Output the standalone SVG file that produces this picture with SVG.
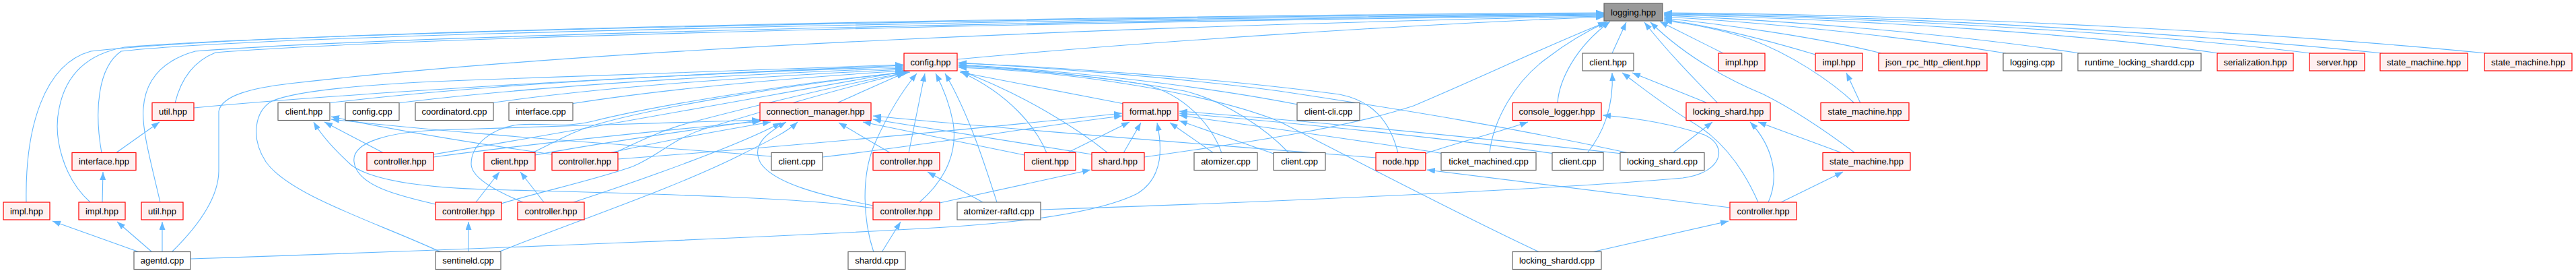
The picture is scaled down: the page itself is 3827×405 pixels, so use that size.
<svg xmlns="http://www.w3.org/2000/svg" width="3827" height="405" viewBox="0 0 3827 405">
<defs>
<marker id="ah" viewBox="0 0 12 9" refX="12" refY="4.5" markerWidth="12" markerHeight="9" markerUnits="userSpaceOnUse" orient="auto"><path d="M0,0 L12,4.5 L0,9 z" fill="#63b8ff"/></marker>
<style>
.e{fill:none;stroke:#63b8ff;stroke-width:1.1;marker-end:url(#ah)}
.r{fill:#fff0f0;stroke:#ff0000;stroke-width:1.2}
.w{fill:#ffffff;stroke:#666666;stroke-width:1.2}
.g{fill:#999999;stroke:#666666;stroke-width:1.2}
text{font-family:"Liberation Sans",Arial,Helvetica,sans-serif;font-size:13px;fill:#000;text-anchor:middle}
</style>
</defs>
<rect width="3827" height="405" fill="#ffffff"/>
<g id="edges">
<path class="e" d="M39,300 C37,190 65,95 135,76 C400,45 1600,24 2383,19"/>
<path class="e" d="M134,300 C95,265 78,205 88,160 C98,110 130,80 185,70 C500,45 1600,26 2383,20"/>
<path class="e" d="M151,227 C140,165 145,100 180,76 C400,50 1600,28 2383,21"/>
<path class="e" d="M238,300 C224,240 210,190 213,160 C216,120 240,90 290,76 C600,52 1600,30 2383,22"/>
<path class="e" d="M260,153 C268,120 285,92 320,78 C600,55 1600,32 2383,23"/>
<path class="e" d="M255,374 C300,330 325,290 325,253 L325,165 C330,140 380,130 430,124 C900,70 1700,38 2383,24"/>
<path class="e" d="M1422,88 C1700,62 2100,36 2383,25"/>
<path class="e" d="M1700,233 C1850,212 2000,190 2100,157 C2200,115 2300,67 2386,33"/>
<path class="e" d="M2213,227 C2218,180 2250,120 2300,85 C2330,62 2360,45 2388,32"/>
<path class="e" d="M2314,153 C2316,120 2340,70 2392,32"/>
<path class="e" d="M2395,79 L2416,33"/>
<path class="e" d="M2552,153 C2520,120 2480,80 2443,33"/>
<path class="e" d="M2756,227 C2700,185 2660,160 2620,140 C2560,115 2500,80 2452,33"/>
<path class="e" d="M2560,79 L2466,32"/>
<path class="e" d="M2755,153 C2720,120 2660,80 2600,58 C2550,42 2505,34 2472,31"/>
<path class="e" d="M2697,81 C2620,58 2540,38 2472,29"/>
<path class="e" d="M2795,79 C2700,55 2560,36 2472,27"/>
<path class="e" d="M2980,79 C2800,50 2600,32 2472,25"/>
<path class="e" d="M3090,79 C2900,50 2650,30 2472,23"/>
<path class="e" d="M3296,79 C3100,50 2750,28 2472,22"/>
<path class="e" d="M3433,79 C3200,50 2800,26 2472,21"/>
<path class="e" d="M3540,79 C3250,50 2850,24 2472,20"/>
<path class="e" d="M3694,79 C3400,50 2900,22 2472,19"/>
<path class="e" d="M288,160 C500,140 900,115 1342,97"/>
<path class="e" d="M487,153 C700,127 1000,110 1342,99"/>
<path class="e" d="M590,153 C800,127 1100,110 1342,101"/>
<path class="e" d="M728,153 C900,128 1150,112 1342,103"/>
<path class="e" d="M848,154 C1000,130 1200,114 1342,105"/>
<path class="e" d="M655,374 C560,330 430,290 395,240 C372,205 378,165 404,150 C450,130 600,122 720,118 C950,110 1200,100 1342,96"/>
<path class="e" d="M790,227 C830,208 850,195 885,185 C960,163 1150,128 1345,107"/>
<path class="e" d="M912,227 C950,210 985,192 1025,182 C1110,160 1250,125 1350,107"/>
<path class="e" d="M644,229 C850,195 1150,140 1343,106"/>
<path class="e" d="M745,302 C800,285 880,268 940,247 C980,230 1000,205 1050,190 C1150,160 1270,125 1347,108"/>
<path class="e" d="M777,300 C740,285 700,265 700,243 C700,215 730,190 770,185 C810,182 840,190 880,180 C980,155 1200,120 1352,107"/>
<path class="e" d="M1243,153 L1344,108"/>
<path class="e" d="M1350,227 L1374,109"/>
<path class="e" d="M1366,300 C1410,262 1422,220 1416,182 C1410,150 1400,128 1390,109"/>
<path class="e" d="M1481,300 C1465,250 1440,170 1404,109"/>
<path class="e" d="M1298,374 C1283,330 1278,262 1300,212 C1318,172 1340,135 1362,109"/>
<path class="e" d="M1670,154 L1426,107"/>
<path class="e" d="M1555,227 C1540,190 1500,140 1428,107"/>
<path class="e" d="M1646,227 C1600,190 1520,140 1427,105"/>
<path class="e" d="M1815,227 C1800,185 1760,140 1700,125 C1600,110 1500,102 1424,98"/>
<path class="e" d="M1915,227 C1880,190 1820,150 1760,135 C1650,115 1520,101 1424,97"/>
<path class="e" d="M1928,155 C1800,130 1600,105 1424,96"/>
<path class="e" d="M2077,227 C2065,180 2040,150 1990,140 C1800,115 1550,98 1424,94"/>
<path class="e" d="M2420,227 C2250,190 2100,165 1900,135 C1750,115 1550,100 1424,93"/>
<path class="e" d="M2287,374 C2150,310 2000,230 1900,180 C1800,140 1600,106 1424,100"/>
<path class="e" d="M1222,233 C1400,212 1550,186 1667,172"/>
<path class="e" d="M918,236 C1200,215 1500,186 1667,168"/>
<path class="e" d="M1669,227 L1695,182"/>
<path class="e" d="M1585,227 L1678,181"/>
<path class="e" d="M1803,227 L1738,182"/>
<path class="e" d="M1895,229 L1752,179"/>
<path class="e" d="M283,384 C700,370 1200,350 1420,336 C1550,327 1640,312 1690,287 C1730,262 1726,216 1719,182"/>
<path class="e" d="M2310,228 C2150,205 1950,185 1752,168"/>
<path class="e" d="M2410,228 C2200,205 1950,180 1752,165"/>
<path class="e" d="M2145,228 C2000,205 1850,185 1752,171"/>
<path class="e" d="M1323,227 L1246,182"/>
<path class="e" d="M1522,230 L1282,181"/>
<path class="e" d="M1622,229 L1297,177"/>
<path class="e" d="M2044,234 C1800,215 1500,192 1297,172"/>
<path class="e" d="M795,230 C900,210 1050,190 1131,178"/>
<path class="e" d="M905,227 C980,210 1080,192 1145,181"/>
<path class="e" d="M852,300 C950,268 1100,215 1160,182"/>
<path class="e" d="M644,233 C800,212 1000,192 1130,180"/>
<path class="e" d="M647,303 C590,290 530,275 526,240 C522,210 580,196 650,193 C800,188 1000,182 1129,178"/>
<path class="e" d="M740,374 C850,330 1000,280 1100,230 C1150,205 1170,195 1185,181"/>
<path class="e" d="M1297,305 C1220,290 1150,272 1130,242 C1115,215 1140,197 1168,181"/>
<path class="e" d="M570,227 L482,181"/>
<path class="e" d="M1297,309 C1200,292 900,286 720,281 C600,277 545,262 522,245 C500,225 480,205 466,181"/>
<path class="e" d="M1146,232 C900,212 700,200 492,177"/>
<path class="e" d="M820,229 C700,212 600,196 492,173"/>
<path class="e" d="M172,227 L237,181"/>
<path class="e" d="M152,300 L153,255"/>
<path class="e" d="M207,374 L78,328"/>
<path class="e" d="M226,374 L174,329"/>
<path class="e" d="M241,374 L241,329"/>
<path class="e" d="M696,374 L696,329"/>
<path class="e" d="M707,300 L742,255"/>
<path class="e" d="M808,300 L773,255"/>
<path class="e" d="M1310,374 L1338,329"/>
<path class="e" d="M1460,300 L1378,255"/>
<path class="e" d="M1396,301 L1620,252"/>
<path class="e" d="M2117,228 C2170,210 2230,195 2270,181"/>
<path class="e" d="M1546,311 C1800,303 2300,282 2500,264 C2560,256 2568,216 2532,200 C2485,184 2430,175 2381,171"/>
<path class="e" d="M2570,308 C2400,287 2250,267 2120,252"/>
<path class="e" d="M2365,374 L2568,328"/>
<path class="e" d="M2485,227 L2544,181"/>
<path class="e" d="M2627,300 C2645,260 2632,215 2600,181"/>
<path class="e" d="M2737,227 L2612,181"/>
<path class="e" d="M2646,300 L2738,255"/>
<path class="e" d="M2764,153 L2743,108"/>
<path class="e" d="M2612,300 C2590,250 2560,210 2520,185 C2470,155 2440,130 2410,108"/>
<path class="e" d="M2358,227 C2380,200 2398,160 2395,108"/>
<path class="e" d="M2537,153 L2425,108"/>
</g>
<g id="logging_hpp"><rect class="g" x="2383" y="5" width="87" height="26"/><text x="2426.5" y="22.5">logging.hpp</text></g>
<g id="config_hpp"><rect class="r" x="1343" y="79" width="79" height="26"/><text x="1382.5" y="96.5">config.hpp</text></g>
<g id="client_hpp_1"><rect class="w" x="2351" y="79" width="76" height="26"/><text x="2389" y="96.5">client.hpp</text></g>
<g id="impl_hpp_1"><rect class="r" x="2553" y="79" width="69" height="26"/><text x="2587.5" y="96.5">impl.hpp</text></g>
<g id="impl_hpp_2"><rect class="r" x="2697" y="79" width="70" height="26"/><text x="2732" y="96.5">impl.hpp</text></g>
<g id="json_rpc_http_client_hpp"><rect class="r" x="2791" y="79" width="161" height="26"/><text x="2871.5" y="96.5">json_rpc_http_client.hpp</text></g>
<g id="logging_cpp"><rect class="w" x="2976" y="79" width="87" height="26"/><text x="3019.5" y="96.5">logging.cpp</text></g>
<g id="runtime_locking_shardd_cpp"><rect class="w" x="3087" y="79" width="183" height="26"/><text x="3178.5" y="96.5">runtime_locking_shardd.cpp</text></g>
<g id="serialization_hpp"><rect class="r" x="3294" y="79" width="113" height="26"/><text x="3350.5" y="96.5">serialization.hpp</text></g>
<g id="server_hpp"><rect class="r" x="3431" y="79" width="82" height="26"/><text x="3472" y="96.5">server.hpp</text></g>
<g id="state_machine_hpp_1"><rect class="r" x="3536" y="79" width="130" height="26"/><text x="3601" y="96.5">state_machine.hpp</text></g>
<g id="state_machine_hpp_2"><rect class="r" x="3691" y="79" width="130" height="26"/><text x="3756" y="96.5">state_machine.hpp</text></g>
<g id="util_hpp_1"><rect class="r" x="226" y="152.5" width="62" height="26"/><text x="257" y="170">util.hpp</text></g>
<g id="client_hpp_2"><rect class="w" x="413" y="152.5" width="77" height="26"/><text x="451.5" y="170">client.hpp</text></g>
<g id="config_cpp"><rect class="w" x="513" y="152.5" width="80" height="26"/><text x="553" y="170">config.cpp</text></g>
<g id="coordinatord_cpp"><rect class="w" x="617" y="152.5" width="116" height="26"/><text x="675" y="170">coordinatord.cpp</text></g>
<g id="interface_cpp"><rect class="w" x="756" y="152.5" width="95" height="26"/><text x="803.5" y="170">interface.cpp</text></g>
<g id="connection_manager_hpp"><rect class="r" x="1129" y="152.5" width="165" height="26"/><text x="1211.5" y="170">connection_manager.hpp</text></g>
<g id="format_hpp"><rect class="r" x="1668" y="152.5" width="82" height="26"/><text x="1709" y="170">format.hpp</text></g>
<g id="client_cli_cpp"><rect class="w" x="1927" y="152.5" width="93" height="26"/><text x="1973.5" y="170">client-cli.cpp</text></g>
<g id="console_logger_hpp"><rect class="r" x="2247" y="152.5" width="132" height="26"/><text x="2313" y="170">console_logger.hpp</text></g>
<g id="locking_shard_hpp"><rect class="r" x="2505" y="152.5" width="125" height="26"/><text x="2567.5" y="170">locking_shard.hpp</text></g>
<g id="state_machine_hpp_3"><rect class="r" x="2705" y="152.5" width="131" height="26"/><text x="2770.5" y="170">state_machine.hpp</text></g>
<g id="interface_hpp"><rect class="r" x="107" y="226.5" width="95" height="26"/><text x="154.5" y="244">interface.hpp</text></g>
<g id="controller_hpp_1"><rect class="r" x="545" y="226.5" width="99" height="26"/><text x="594.5" y="244">controller.hpp</text></g>
<g id="client_hpp_3"><rect class="r" x="719" y="226.5" width="76" height="26"/><text x="757" y="244">client.hpp</text></g>
<g id="controller_hpp_2"><rect class="r" x="820" y="226.5" width="98" height="26"/><text x="869" y="244">controller.hpp</text></g>
<g id="client_cpp_1"><rect class="w" x="1146" y="226.5" width="76" height="26"/><text x="1184" y="244">client.cpp</text></g>
<g id="controller_hpp_3"><rect class="r" x="1297" y="226.5" width="99" height="26"/><text x="1346.5" y="244">controller.hpp</text></g>
<g id="client_hpp_4"><rect class="r" x="1522" y="226.5" width="76" height="26"/><text x="1560" y="244">client.hpp</text></g>
<g id="shard_hpp"><rect class="r" x="1622" y="226.5" width="78" height="26"/><text x="1661" y="244">shard.hpp</text></g>
<g id="atomizer_cpp"><rect class="w" x="1774" y="226.5" width="94" height="26"/><text x="1821" y="244">atomizer.cpp</text></g>
<g id="client_cpp_2"><rect class="w" x="1892" y="226.5" width="77" height="26"/><text x="1930.5" y="244">client.cpp</text></g>
<g id="node_hpp"><rect class="r" x="2044" y="226.5" width="74" height="26"/><text x="2081" y="244">node.hpp</text></g>
<g id="ticket_machined_cpp"><rect class="w" x="2141" y="226.5" width="141" height="26"/><text x="2211.5" y="244">ticket_machined.cpp</text></g>
<g id="client_cpp_3"><rect class="w" x="2306" y="226.5" width="76" height="26"/><text x="2344" y="244">client.cpp</text></g>
<g id="locking_shard_cpp"><rect class="w" x="2407" y="226.5" width="125" height="26"/><text x="2469.5" y="244">locking_shard.cpp</text></g>
<g id="state_machine_hpp_4"><rect class="r" x="2708" y="226.5" width="130" height="26"/><text x="2773" y="244">state_machine.hpp</text></g>
<g id="impl_hpp_3"><rect class="r" x="5" y="300" width="69" height="26"/><text x="39.5" y="317.5">impl.hpp</text></g>
<g id="impl_hpp_4"><rect class="r" x="117" y="300" width="69" height="26"/><text x="151.5" y="317.5">impl.hpp</text></g>
<g id="util_hpp_2"><rect class="r" x="210" y="300" width="62" height="26"/><text x="241" y="317.5">util.hpp</text></g>
<g id="controller_hpp_4"><rect class="r" x="647" y="300" width="98" height="26"/><text x="696" y="317.5">controller.hpp</text></g>
<g id="controller_hpp_5"><rect class="r" x="769" y="300" width="99" height="26"/><text x="818.5" y="317.5">controller.hpp</text></g>
<g id="controller_hpp_6"><rect class="r" x="1297" y="300" width="99" height="26"/><text x="1346.5" y="317.5">controller.hpp</text></g>
<g id="atomizer_raftd_cpp"><rect class="w" x="1422" y="300" width="124" height="26"/><text x="1484" y="317.5">atomizer-raftd.cpp</text></g>
<g id="controller_hpp_7"><rect class="r" x="2570" y="300" width="99" height="26"/><text x="2619.5" y="317.5">controller.hpp</text></g>
<g id="agentd_cpp"><rect class="w" x="199" y="373.5" width="84" height="26"/><text x="241" y="391">agentd.cpp</text></g>
<g id="sentineld_cpp"><rect class="w" x="647" y="373.5" width="97" height="26"/><text x="695.5" y="391">sentineld.cpp</text></g>
<g id="shardd_cpp"><rect class="w" x="1260" y="373.5" width="85" height="26"/><text x="1302.5" y="391">shardd.cpp</text></g>
<g id="locking_shardd_cpp"><rect class="w" x="2247" y="373.5" width="132" height="26"/><text x="2313" y="391">locking_shardd.cpp</text></g>
</svg>
